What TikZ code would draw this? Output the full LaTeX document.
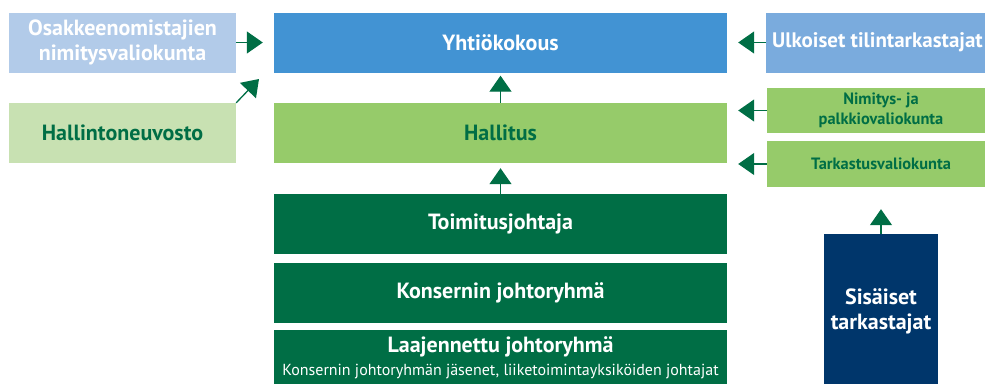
\documentclass[tikz,border=0pt]{standalone}
\usepackage{fontspec}
\setmainfont{PT Sans}
\usepackage{tikz}
\usetikzlibrary{positioning,arrows.meta}
\definecolor{paleblue}{RGB}{178,203,233}
\definecolor{palegreen}{RGB}{200,225,178}
\definecolor{midblue}{RGB}{66,147,211}
\definecolor{softblue}{RGB}{122,171,221}
\definecolor{leafgreen}{RGB}{150,203,106}
\definecolor{deepgreen}{RGB}{0,110,69}
\definecolor{navyblue}{RGB}{0,54,107}

\begin{document}
\begin{tikzpicture}[x=1pt,y=-1pt,
  every node/.style={font=\fontsize{22}{25}\selectfont\bfseries,align=center,inner sep=0pt},
  orgbox/.style={minimum width=453pt,minimum height=60pt},
  sidebox/.style={minimum width=227pt,minimum height=60pt},
  smalltext/.style={font=\fontsize{16.4}{20}\selectfont\bfseries},
  up/.style={-{Triangle[length=16pt,width=22pt]},deepgreen,line width=1.3pt}]
\useasboundingbox (0,0) rectangle (985,383);
\clip (0,0) rectangle (985,383);
% main column
\node[orgbox,fill=midblue,text=white] (yhtio) at (500.5,42.5) {Yhtiökokous};
\node[orgbox,fill=leafgreen,text=deepgreen] (hallitus) at (500.5,133) {Hallitus};
\node[orgbox,fill=deepgreen,text=white] (toimitus) at (500.5,224) {Toimitusjohtaja};
\node[orgbox,fill=deepgreen,text=white] (konserni) at (500.5,292.5) {Konsernin johtoryhmä};
\node[orgbox,fill=deepgreen,text=white,minimum height=62pt] (laaja) at (500.5,361) {};
\node[text=white] (laajaT) at (500.5,347) {Laajennettu johtoryhmä};
\node[text=white,font=\fontsize{16}{18}\selectfont] (laajaS) at (500.5,372) {Konsernin johtoryhmän jäsenet, liiketoimintayksiköiden johtajat};
% left side
\node[sidebox,fill=paleblue,text=white] (osakas) at (122.5,42.5) {Osakkeenomistajien\\nimitysvaliokunta};
\node[sidebox,fill=palegreen,text=deepgreen] (hallinto) at (122.5,133) {Hallintoneuvosto};
% right side
\node[sidebox,minimum width=230pt,fill=softblue] (ulkoiset) at (881,42.5) {};
\node[text=white,font=\fontsize{21}{24}\selectfont\bfseries] (ulkoisetT) at (877.5,42.5) {Ulkoiset tilintarkastajat};
\node[sidebox,smalltext,minimum width=228pt,minimum height=45pt,fill=leafgreen,text=deepgreen] (nimitys) at (881,110.5) {Nimitys- ja\\palkkiovaliokunta};
\node[sidebox,smalltext,minimum width=228pt,minimum height=46pt,fill=leafgreen,text=deepgreen] (tarkastus) at (881,164) {Tarkastusvaliokunta};
\node[minimum width=114pt,minimum height=154pt,fill=navyblue,text=white] (sisaiset) at (881,311) {Sisäiset\\tarkastajat};
\coordinate (hallintoTip) at (259,79);
% arrows
\draw[up,shorten >=3pt] (hallitus.north) -- (yhtio.south);
\draw[up,shorten >=5pt] (toimitus.north) -- (hallitus.south);
\draw[up,shorten >=11pt] (osakas.east) -- (yhtio.west |- osakas.east);
\draw[up] (hallinto.north east) -- (hallintoTip);
\draw[up,shorten >=11pt] (ulkoiset.west) -- (yhtio.east |- ulkoiset.west);
\draw[up,shorten >=11pt] (nimitys.west) -- (hallitus.east |- nimitys.west);
\draw[up,shorten >=11pt] (tarkastus.west) -- (hallitus.east |- tarkastus.west);
\draw[up,shorten >=22pt] (sisaiset.north) -- (tarkastus.south);
\end{tikzpicture}
\end{document}
